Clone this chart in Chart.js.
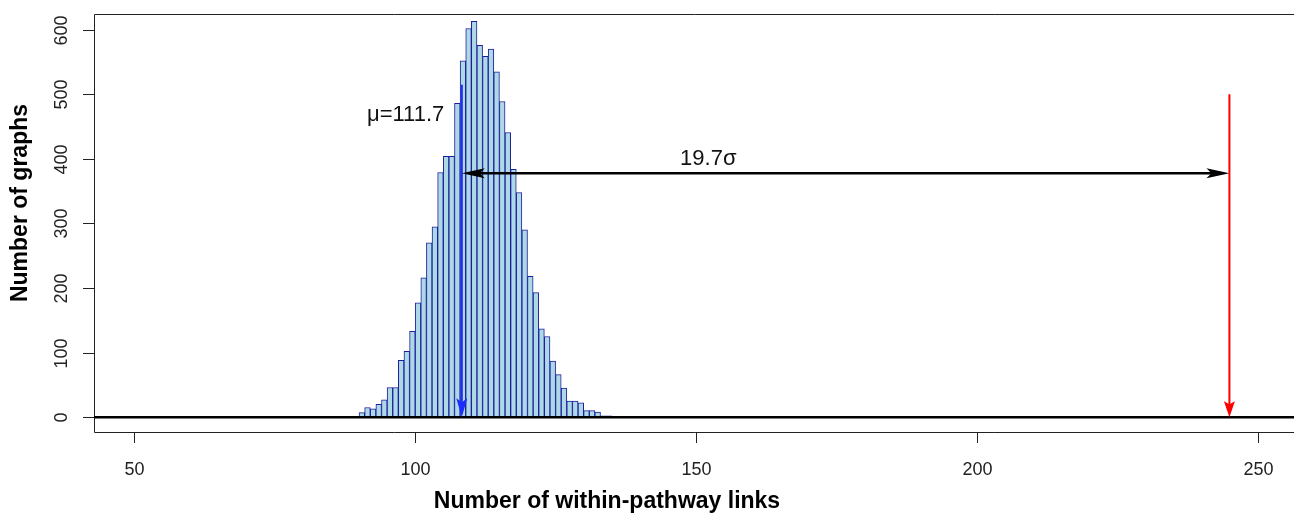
<!DOCTYPE html>
<html>
<head>
<meta charset="utf-8">
<script src="https://cdn.jsdelivr.net/npm/chart.js@4.4.1/dist/chart.umd.min.js"></script>
<style>
  body { margin: 0; background: #fff; }
  #wrap { width: 1294px; height: 514px; }
</style>
</head>
<body>
<div id="wrap"><canvas id="chart" width="1294" height="514"></canvas></div>
<script>
// histogram bins (left edge of each 1-wide bin) and counts
var binStarts = [86, 87, 88, 89, 90, 91, 92, 93, 94, 95, 96, 97, 98, 99, 100, 101, 102, 103, 104, 105,
    106, 107, 108, 109, 110, 111, 112, 113, 114, 115, 116, 117, 118, 119, 120, 121, 122, 123, 124, 125,
    126, 127, 128, 129, 130, 131, 132, 133, 134];
var counts = [1, 1, 1, 1, 7, 15, 13, 20, 27, 46, 46, 88, 102, 133, 177, 216, 270, 295, 379, 404,
    404, 486, 552, 602, 613, 576, 559, 570, 535, 489, 441, 384, 348, 290, 218, 193, 137, 125, 87, 66,
    45, 25, 25, 22, 10, 10, 8, 2, 2];

var xTicks = [50, 100, 150, 200, 250];
var yTicks = [0, 100, 200, 300, 400, 500, 600];

// annotation values
var meanArrow = [108.3, 515, 0];      // x, from y, to y
var sigmaArrow = [108.3, 245, 378];   // from x, to x, y
var observedArrow = [245, 500, 0];    // x, from y, to y
var meanLabel = ['\u03bc=111.7', 98.3, 468];
var sigmaLabel = ['19.7\u03c3', 152.2, 400];

var xTitle = 'Number of within-pathway links';
var yTitle = 'Number of graphs';

var data = [];
for (var i = 0; i < binStarts.length; i++) {
    data.push({x: binStarts[i] + 0.5, y: counts[i]});
}

function arrowHead(ctx, tx, ty, dx, dy, len, half, notch, color) {
    // tip at (tx,ty), pointing along (dx,dy)
    var bx = tx - dx * len, by = ty - dy * len;
    var nx = -dy, ny = dx;
    ctx.beginPath();
    ctx.moveTo(tx, ty);
    ctx.lineTo(bx + nx * half, by + ny * half);
    ctx.lineTo(tx - dx * (len - notch), ty - dy * (len - notch));
    ctx.lineTo(bx - nx * half, by - ny * half);
    ctx.closePath();
    ctx.fillStyle = color;
    ctx.fill();
}

var rPlot = {
    id: 'rPlot',
    afterDatasetsDraw: function(chart) {
        var ctx = chart.ctx;
        var xs = chart.scales.x, ys = chart.scales.y;
        var area = chart.chartArea;
        ctx.save();

        // box
        ctx.strokeStyle = '#222';
        ctx.lineWidth = 1;
        ctx.beginPath();
        ctx.moveTo(area.right + 5, area.top + 0.5);
        ctx.lineTo(area.left + 0.5, area.top + 0.5);
        ctx.lineTo(area.left + 0.5, area.bottom + 0.5);
        ctx.lineTo(area.right + 5, area.bottom + 0.5);
        ctx.stroke();

        // horizontal line at 0
        var y0 = ys.getPixelForValue(0);
        ctx.strokeStyle = '#000';
        ctx.lineWidth = 2.5;
        ctx.beginPath();
        ctx.moveTo(area.left, y0);
        ctx.lineTo(area.right, y0);
        ctx.stroke();

        // x ticks
        ctx.lineWidth = 1;
        ctx.strokeStyle = '#222';
        ctx.fillStyle = '#222';
        ctx.font = '18px "Liberation Sans", Arial, sans-serif';
        ctx.textAlign = 'center';
        ctx.textBaseline = 'middle';
        xTicks.forEach(function(v) {
            var px = Math.round(xs.getPixelForValue(v)) + 0.5;
            ctx.beginPath();
            ctx.moveTo(px, area.bottom);
            ctx.lineTo(px, area.bottom + 11);
            ctx.stroke();
            ctx.fillText(String(v), px, 470);
        });

        // y ticks, labels rotated like R
        yTicks.forEach(function(v) {
            var py = Math.round(ys.getPixelForValue(v)) + 0.5;
            ctx.beginPath();
            ctx.moveTo(area.left, py);
            ctx.lineTo(area.left - 11, py);
            ctx.stroke();
            ctx.save();
            ctx.translate(62, py);
            ctx.rotate(-Math.PI / 2);
            ctx.fillText(String(v), 0, 0);
            ctx.restore();
        });

        // axis titles
        ctx.fillStyle = '#000';
        ctx.font = 'bold 23px "Liberation Sans", Arial, sans-serif';
        ctx.fillText(xTitle, 607, 502);
        ctx.save();
        ctx.translate(21, 203);
        ctx.rotate(-Math.PI / 2);
        ctx.fillText(yTitle, 0, 0);
        ctx.restore();

        // mean arrow (blue)
        var mx = xs.getPixelForValue(meanArrow[0]);
        var mTop = ys.getPixelForValue(meanArrow[1]);
        var mBot = ys.getPixelForValue(meanArrow[2]);
        ctx.strokeStyle = '#1a2cff';
        ctx.lineWidth = 2;
        ctx.beginPath();
        ctx.moveTo(mx, mTop);
        ctx.lineTo(mx, mBot - 8);
        ctx.stroke();
        arrowHead(ctx, mx, mBot, 0, 1, 19, 5.5, 4, '#1a2cff');

        // sigma double arrow (black)
        var sx1 = xs.getPixelForValue(sigmaArrow[0]);
        var sx2 = xs.getPixelForValue(sigmaArrow[1]);
        var sy = ys.getPixelForValue(sigmaArrow[2]);
        ctx.strokeStyle = '#000';
        ctx.lineWidth = 2.5;
        ctx.beginPath();
        ctx.moveTo(sx1 + 10, sy);
        ctx.lineTo(sx2 - 10, sy);
        ctx.stroke();
        arrowHead(ctx, sx1, sy, -1, 0, 23, 5, 5, '#000');
        arrowHead(ctx, sx2, sy, 1, 0, 23, 5, 5, '#000');

        // observed arrow (red)
        var rx = xs.getPixelForValue(observedArrow[0]);
        var rTop = ys.getPixelForValue(observedArrow[1]);
        var rBot = ys.getPixelForValue(observedArrow[2]);
        ctx.strokeStyle = '#ff0000';
        ctx.lineWidth = 2;
        ctx.beginPath();
        ctx.moveTo(rx, rTop);
        ctx.lineTo(rx, rBot - 8);
        ctx.stroke();
        arrowHead(ctx, rx, rBot, 0, 1, 16, 5.5, 3, '#ff0000');

        // labels
        ctx.fillStyle = '#111';
        ctx.font = '22px "Liberation Sans", Arial, sans-serif';
        ctx.fillText(meanLabel[0], xs.getPixelForValue(meanLabel[1]), ys.getPixelForValue(meanLabel[2]));
        ctx.fillText(sigmaLabel[0], xs.getPixelForValue(sigmaLabel[1]), ys.getPixelForValue(sigmaLabel[2]));

        ctx.restore();
    }
};

var chart = new Chart(document.getElementById('chart'), {
    type: 'bar',
    data: {
        datasets: [{
            label: 'Number of graphs',
            data: data,
            backgroundColor: '#add8e6',
            borderColor: '#1e1e9c',
            borderWidth: 1,
            barPercentage: 1,
            categoryPercentage: 1
        }]
    },
    options: {
        responsive: false,
        animation: false,
        layout: { padding: { left: 94, top: 14, right: 0, bottom: 82 } },
        plugins: { legend: { display: false }, tooltip: { enabled: false } },
        scales: {
            x: { type: 'linear', display: false, min: 42.8, max: 256.5, offset: false },
            y: { display: false, min: -23, max: 624.5 }
        }
    },
    plugins: [rPlot]
});
</script>
</body>
</html>
